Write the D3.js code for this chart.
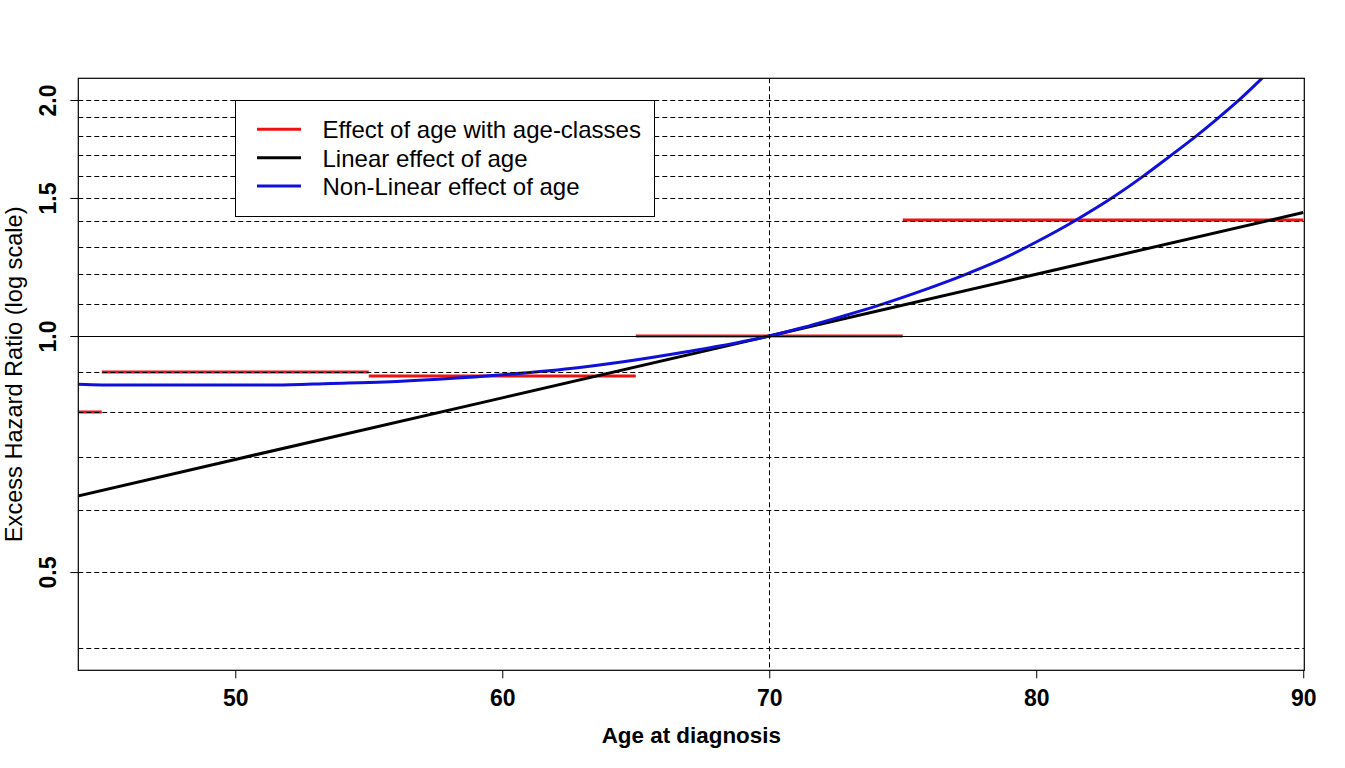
<!DOCTYPE html>
<html>
<head>
<meta charset="utf-8">
<script src="https://cdn.jsdelivr.net/npm/d3@7"></script>
<style>
  html, body { margin: 0; padding: 0; background: #ffffff; }
  svg { display: block; font-family: "Liberation Sans", Arial, sans-serif; }
</style>
</head>
<body>
<svg id="chart" width="1345" height="768"></svg>
<script>
// ---------------- data ----------------
// age-class step effect (from, to, excess hazard ratio)
const classFrom = [40, 45, 55, 65, 75];
const classTo   = [45, 55, 65, 75, 90];
const classHR   = [0.80, 0.90, 0.889, 1.0, 1.406];

// linear effect of age (straight on log scale)
const linAges = [44, 50, 60, 70, 80, 90];
const linHR   = [0.624, 0.696, 0.834, 1.0, 1.199, 1.437];

// non-linear effect of age
const nlAges = [44, 45, 48, 51.5, 53.6, 55.6, 57.6, 60.25, 62.9, 64.4, 66.9, 70,
                71.3, 72.5, 73.8, 75, 76.3, 77.5, 78.8, 80, 81.4, 82.9, 84, 85,
                86, 86.8, 87.6, 88.45, 90];
const nlHR   = [0.868, 0.866, 0.866, 0.866, 0.870, 0.874, 0.881, 0.894, 0.912, 0.926, 0.955, 1.0,
                1.026, 1.054, 1.086, 1.120, 1.161, 1.204, 1.257, 1.318, 1.40, 1.505, 1.598, 1.695,
                1.80, 1.895, 2.00, 2.13, 2.40];

// axes
const xTicks = [50, 60, 70, 80, 90];
const yTicks = [0.5, 1.0, 1.5, 2.0];
const yTickLabels = ["0.5", "1.0", "1.5", "2.0"];
const gridHR = [0.4, 0.5, 0.6, 0.7, 0.8, 0.9, 1.1, 1.2, 1.3, 1.4, 1.5, 1.6, 1.7, 1.8, 1.9, 2.0];
const refHR = 1.0;
const refAge = 70;
const xDomain = [44.12, 90.04];
const yDomain = [0.3747, 2.1315];

const seriesNames  = ["Effect of age with age-classes", "Linear effect of age", "Non-Linear effect of age"];
const seriesColors = ["#ee1111", "#000000", "#1010dd"];
const xTitle = "Age at diagnosis";
const yTitle = "Excess Hazard Ratio (log scale)";

// ---------------- layout ----------------
const W = 1345, H = 768;
const margin = { left: 78.3, top: 78.3, right: 40.7, bottom: 97.7 };
const x0 = margin.left, x1 = W - margin.right, y0 = margin.top, y1 = H - margin.bottom;

const svg = d3.select("#chart");
const x = d3.scaleLinear().domain(xDomain).range([x0, x1]);
const y = d3.scaleLog().domain(yDomain).range([y1, y0]);

svg.append("defs").append("clipPath").attr("id", "plotclip")
  .append("rect").attr("x", x0).attr("y", y0).attr("width", x1 - x0).attr("height", y1 - y0);

const plot = svg.append("g").attr("clip-path", "url(#plotclip)");

// data lines
const classData = classFrom.map((f, i) => ({ from: f, to: classTo[i], hr: classHR[i] }));
plot.selectAll("line.cls").data(classData).enter().append("line")
  .attr("class", "cls")
  .attr("x1", d => x(d.from)).attr("x2", d => x(d.to))
  .attr("y1", d => y(d.hr)).attr("y2", d => y(d.hr))
  .attr("stroke", seriesColors[0]).attr("stroke-width", 3);

const linData = linAges.map((a, i) => [a, linHR[i]]);
plot.append("path").datum(linData)
  .attr("d", d3.line().x(d => x(d[0])).y(d => y(d[1])))
  .attr("fill", "none").attr("stroke", seriesColors[1]).attr("stroke-width", 3);

const nlData = nlAges.map((a, i) => [a, nlHR[i]]);
plot.append("path").datum(nlData)
  .attr("d", d3.line().curve(d3.curveMonotoneX).x(d => x(d[0])).y(d => y(d[1])))
  .attr("fill", "none").attr("stroke", seriesColors[2]).attr("stroke-width", 3);

// grid lines (drawn over data, as in reference)
plot.selectAll("line.grid").data(gridHR).enter().append("line")
  .attr("class", "grid")
  .attr("x1", x0).attr("x2", x1)
  .attr("y1", d => Math.round(y(d)) + 0.5).attr("y2", d => Math.round(y(d)) + 0.5)
  .attr("stroke", "#000").attr("stroke-width", 1).attr("stroke-dasharray", "5,3");

plot.append("line")
  .attr("x1", x0).attr("x2", x1)
  .attr("y1", Math.round(y(refHR)) + 0.5).attr("y2", Math.round(y(refHR)) + 0.5)
  .attr("stroke", "#000").attr("stroke-width", 1);

plot.append("line")
  .attr("x1", Math.round(x(refAge)) + 0.5).attr("x2", Math.round(x(refAge)) + 0.5)
  .attr("y1", y0).attr("y2", y1)
  .attr("stroke", "#000").attr("stroke-width", 1).attr("stroke-dasharray", "5,3");

// box
svg.append("rect").attr("x", x0).attr("y", y0).attr("width", x1 - x0).attr("height", y1 - y0)
  .attr("fill", "none").attr("stroke", "#000").attr("stroke-width", 1.2);

// x axis
const xAxis = d3.axisBottom(x).tickValues(xTicks).tickSize(8).tickPadding(11).tickFormat(d3.format("d"));
const gx = svg.append("g").attr("transform", `translate(0,${y1})`).call(xAxis);
gx.select(".domain").remove();
gx.selectAll(".tick line").attr("stroke", "#000");
gx.selectAll(".tick text").attr("font-size", 23).attr("font-weight", "bold")
  .attr("font-family", "Liberation Sans, Arial, sans-serif").attr("fill", "#000");

// y axis
const yAxis = d3.axisLeft(y).tickValues(yTicks).tickSize(8).tickFormat((d, i) => yTickLabels[i]);
const gy = svg.append("g").attr("transform", `translate(${x0},0)`).call(yAxis);
gy.select(".domain").remove();
gy.selectAll(".tick line").attr("stroke", "#000");
gy.selectAll(".tick text")
  .attr("x", null).attr("dy", null)
  .attr("text-anchor", "middle")
  .attr("transform", "translate(-22,0) rotate(-90)")
  .attr("y", 0)
  .attr("font-size", 23).attr("font-weight", "bold")
  .attr("font-family", "Liberation Sans, Arial, sans-serif").attr("fill", "#000");

// titles
svg.append("text").attr("x", (x0 + x1) / 2).attr("y", 743)
  .attr("text-anchor", "middle").attr("font-size", 22.4).attr("font-weight", "bold").text(xTitle);
svg.append("text").attr("transform", `translate(22,${(y0 + y1) / 2}) rotate(-90)`)
  .attr("text-anchor", "middle").attr("font-size", 23.6).text(yTitle);

// legend
const lg = svg.append("g");
lg.append("rect").attr("x", 235.5).attr("y", 100.5).attr("width", 419).attr("height", 116)
  .attr("fill", "#fff").attr("stroke", "#000").attr("stroke-width", 1);
seriesNames.forEach((name, i) => {
  const ly = 129.3 + i * 28.35;
  lg.append("line").attr("x1", 257).attr("x2", 301).attr("y1", ly).attr("y2", ly)
    .attr("stroke", seriesColors[i]).attr("stroke-width", 3);
  lg.append("text").attr("x", 322.5).attr("y", ly + 9).attr("font-size", 24).text(name);
});
</script>
</body>
</html>
